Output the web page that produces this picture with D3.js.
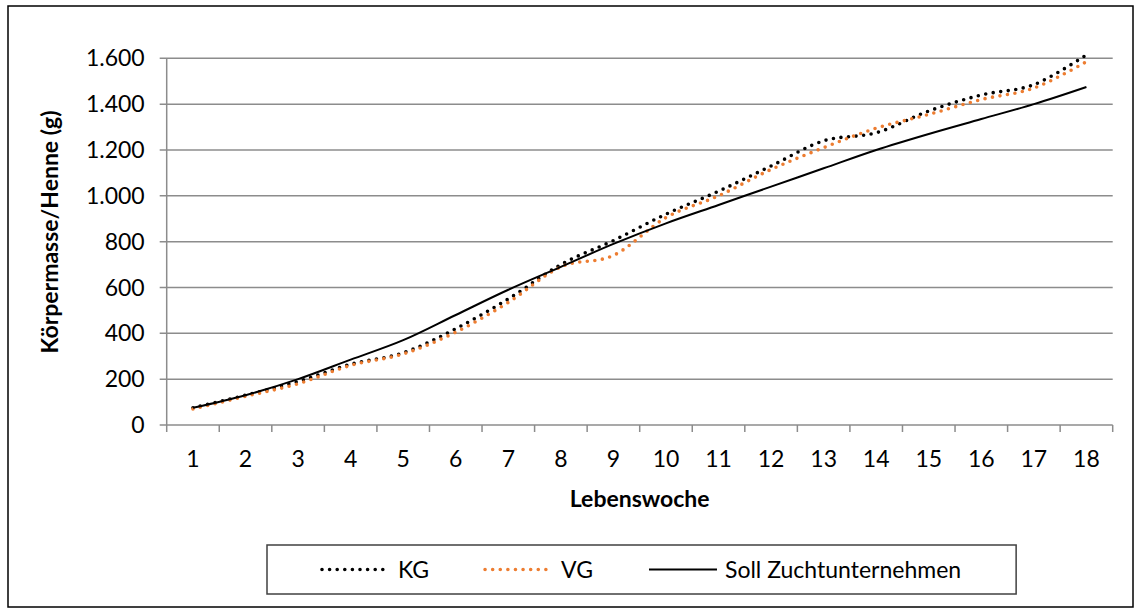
<!DOCTYPE html>
<html>
<head>
<meta charset="utf-8">
<script src="https://cdn.jsdelivr.net/npm/d3@7"></script>
<style>
  body { margin: 0; background: #fff; }
  text { font-family: Lato, "Noto Sans", sans-serif; fill: #000; }
</style>
</head>
<body>
<script>
// chart data
var weeks = ['1','2','3','4','5','6','7','8','9','10','11','12','13','14','15','16','17','18'];
var kg   = [75, 130, 190, 265, 315, 420, 550, 700, 805, 920, 1020, 1130, 1240, 1275, 1370, 1440, 1485, 1615];
var vg   = [70, 125, 180, 260, 310, 405, 535, 690, 740, 905, 1000, 1115, 1210, 1295, 1355, 1420, 1470, 1585];
var soll = [75, 130, 200, 285, 370, 480, 590, 690, 790, 880, 960, 1040, 1120, 1200, 1270, 1335, 1400, 1475];
var y_ticks = [0, 200, 400, 600, 800, 1000, 1200, 1400, 1600];
var series_names = ['KG', 'VG', 'Soll Zuchtunternehmen'];

var width = 1134, height = 608;
var plot_left = 166.7, plot_right = 1112.7, plot_top = 58.3, plot_bottom = 425;
var font = '23px';

var svg = d3.select('body').append('svg').attr('width', width).attr('height', height);

// outer frame
svg.append('rect').attr('x', 8).attr('y', 6).attr('width', width - 9).attr('height', height - 7)
   .attr('fill', '#fff').attr('stroke', '#000').attr('stroke-width', 1.5);

var x_scale = d3.scaleBand().domain(weeks).range([plot_left, plot_right]);
var y_scale = d3.scaleLinear().domain([0, 1600]).range([plot_bottom, plot_top]);

var fmt = function(v) { return d3.format(',')(v).replace(/,/g, '.'); };

// gridlines
svg.append('g').selectAll('line').data(y_ticks).enter().append('line')
   .attr('x1', plot_left - 7).attr('x2', plot_right)
   .attr('y1', d => y_scale(d)).attr('y2', d => y_scale(d))
   .attr('stroke', '#8c8c8c').attr('stroke-width', 1.5);

// y axis line
svg.append('line').attr('x1', plot_left).attr('x2', plot_left).attr('y1', plot_top).attr('y2', plot_bottom)
   .attr('stroke', '#8c8c8c').attr('stroke-width', 1.5);

// x axis ticks at category boundaries
var bounds = weeks.map(w => x_scale(w)).concat([plot_right]);
svg.append('g').selectAll('line').data(bounds).enter().append('line')
   .attr('x1', d => d).attr('x2', d => d).attr('y1', plot_bottom).attr('y2', plot_bottom + 7)
   .attr('stroke', '#8c8c8c').attr('stroke-width', 1.5);

// tick labels
svg.append('g').selectAll('text').data(y_ticks).enter().append('text')
   .attr('x', plot_left - 22).attr('y', d => y_scale(d)).attr('dy', '0.35em')
   .attr('text-anchor', 'end').style('font-size', font).text(fmt);

svg.append('g').selectAll('text').data(weeks).enter().append('text')
   .attr('x', d => x_scale(d) + x_scale.bandwidth() / 2).attr('y', plot_bottom + 34)
   .attr('dy', '0.35em').attr('text-anchor', 'middle').style('font-size', font).text(d => d);

// axis titles
svg.append('text').attr('x', (plot_left + plot_right) / 2).attr('y', 499).attr('dy', '0.35em')
   .attr('text-anchor', 'middle').style('font-size', font).style('font-weight', 'bold')
   .text('Lebenswoche');
svg.append('text').attr('transform', 'translate(50,232) rotate(-90)')
   .attr('dy', '0.35em').attr('text-anchor', 'middle').style('font-size', font).style('font-weight', 'bold')
   .text('Körpermasse/Henne (g)');

// lines (Excel smoothed)
var line = d3.line()
    .x((d, i) => x_scale(weeks[i]) + x_scale.bandwidth() / 2)
    .y(d => y_scale(d))
    .curve(d3.curveCatmullRom.alpha(0));

var styles = [
  { data: kg,   color: '#000000', dash: '0,7.6', width: 3.6, cap: 'round' },
  { data: vg,   color: '#ED7D31', dash: '0,7.6', width: 3.6, cap: 'round' },
  { data: soll, color: '#000000', dash: null,    width: 2,   cap: 'butt' }
];

svg.append('g').selectAll('path').data(styles).enter().append('path')
   .attr('d', d => line(d.data))
   .attr('fill', 'none')
   .attr('stroke', d => d.color)
   .attr('stroke-width', d => d.width)
   .attr('stroke-linecap', d => d.cap)
   .attr('stroke-dasharray', d => d.dash);

// legend: entries laid out one after another with a fixed gap
var leg = svg.append('g');
var box = leg.append('rect').attr('x', 267).attr('y', 545).attr('height', 49)
   .attr('fill', '#fff').attr('stroke', '#404040').attr('stroke-width', 1.5);

var leg_y = 569.5, cursor = 322;
styles.forEach(function(s, i) {
  leg.append('line').attr('x1', cursor).attr('x2', cursor + 68)
     .attr('y1', leg_y).attr('y2', leg_y)
     .attr('stroke', s.color).attr('stroke-width', s.width)
     .attr('stroke-linecap', s.cap).attr('stroke-dasharray', s.dash);
  var t = leg.append('text').attr('x', cursor + 76).attr('y', leg_y).attr('dy', '0.35em')
     .style('font-size', font).text(series_names[i]);
  cursor = cursor + 76 + t.node().getComputedTextLength() + 56;
});
box.attr('width', cursor - 56 + 55 - 267);
</script>
</body>
</html>
